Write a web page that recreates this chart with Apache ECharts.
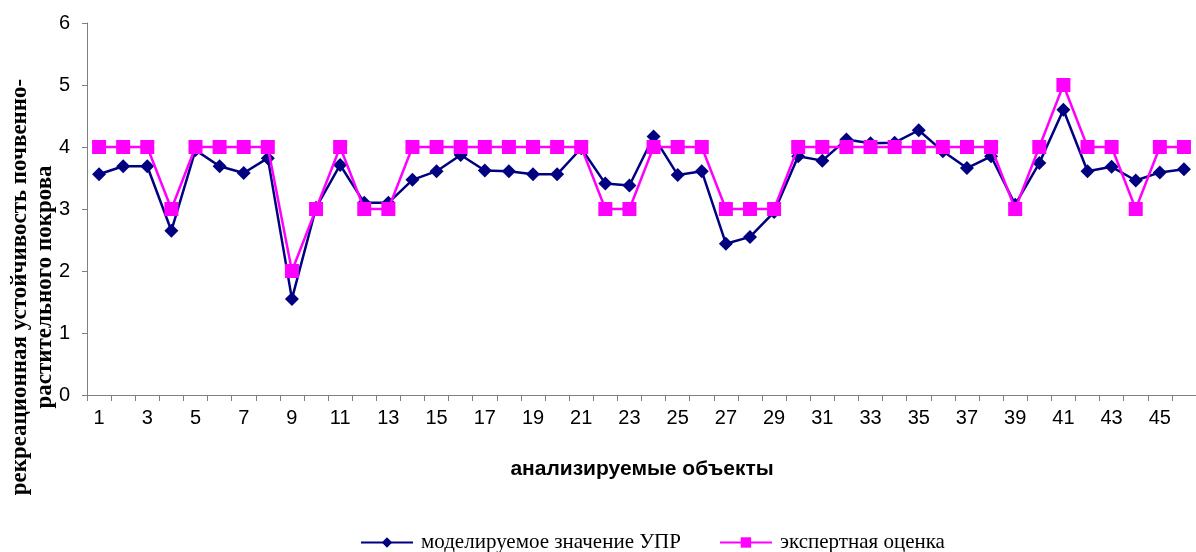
<!DOCTYPE html>
<html>
<head>
<meta charset="utf-8">
<script src="https://cdn.jsdelivr.net/npm/echarts@6/dist/echarts.min.js"></script>
<style>
  html, body { margin: 0; padding: 0; background: #fff; }
  #chart { width: 1196px; height: 552px; }
</style>
</head>
<body>
<div id="chart"></div>
<script>
// Analysed objects 1..46
const objects = Array.from({ length: 46 }, (_, i) => String(i + 1));

// Modelled recreational stability value (УПР)
const modelled = [
  3.56, 3.69, 3.69, 2.65, 3.95, 3.69, 3.58, 3.82, 1.55, 3.02,
  3.71, 3.10, 3.10, 3.47, 3.61, 3.87, 3.62, 3.61, 3.56, 3.56,
  3.98, 3.41, 3.38, 4.17, 3.55, 3.61, 2.44, 2.55, 2.95, 3.85,
  3.78, 4.12, 4.06, 4.07, 4.27, 3.93, 3.66, 3.85, 3.07, 3.74,
  4.60, 3.61, 3.68, 3.46, 3.59, 3.64
];

// Expert assessment
const expert = [
  4, 4, 4, 3, 4, 4, 4, 4, 2, 3,
  4, 3, 3, 4, 4, 4, 4, 4, 4, 4,
  4, 3, 3, 4, 4, 4, 3, 3, 3, 4,
  4, 4, 4, 4, 4, 4, 4, 4, 3, 4,
  5, 4, 4, 3, 4, 4
];

const seriesNames = ['моделируемое значение УПР', 'экспертная оценка'];
const yTitle = ['рекреационная устойчивость почвенно-', 'растительного покрова'];
const xTitle = 'анализируемые объекты';

const axisColor = '#7f7f7f';
const sans = 'Liberation Sans, Arial, sans-serif';
const serif = 'Liberation Serif, Times New Roman, serif';

const chart = echarts.init(document.getElementById('chart'), null, { renderer: 'canvas' });

chart.setOption({
  animation: false,
  backgroundColor: '#ffffff',
  grid: { left: 87, top: 23, width: 1115, bottom: 157, containLabel: false },
  xAxis: {
    type: 'category',
    data: objects,
    boundaryGap: true,
    axisLine: { lineStyle: { color: axisColor, width: 1 } },
    axisTick: { show: true, interval: 0, length: 6, lineStyle: { color: axisColor } },
    axisLabel: { interval: 1, color: '#000', fontFamily: sans, fontSize: 20, margin: 13 },
    splitLine: { show: false }
  },
  yAxis: {
    type: 'value',
    min: 0,
    max: 6,
    interval: 1,
    axisLine: { show: true, lineStyle: { color: axisColor, width: 1 } },
    axisTick: { show: true, length: 5, lineStyle: { color: axisColor } },
    axisLabel: { color: '#000', fontFamily: sans, fontSize: 20, margin: 17 },
    splitLine: { show: false }
  },
  legend: {
    top: 527,
    left: 355,
    itemGap: 38,
    itemWidth: 52,
    itemHeight: 13,
    textStyle: { color: '#000', fontFamily: serif, fontSize: 21, padding: [0, 0, 0, 3] },
    data: seriesNames
  },
  graphic: [
    {
      type: 'text',
      x: 33,
      y: 287,
      rotation: Math.PI / 2,
      style: {
        text: yTitle.join('\n'),
        font: 'bold 23px ' + serif,
        fill: '#000',
        align: 'center',
        verticalAlign: 'middle',
        lineHeight: 25
      }
    },
    {
      type: 'text',
      x: 642,
      y: 469,
      style: {
        text: xTitle,
        font: 'bold 21px ' + sans,
        fill: '#000',
        align: 'center',
        verticalAlign: 'middle'
      }
    }
  ],
  series: [
    {
      name: seriesNames[0],
      type: 'line',
      data: modelled,
      symbol: 'diamond',
      symbolSize: 14,
      showAllSymbol: true,
      itemStyle: { color: '#000080' },
      lineStyle: { color: '#000080', width: 2.5 },
      z: 2
    },
    {
      name: seriesNames[1],
      type: 'line',
      data: expert,
      symbol: 'rect',
      symbolSize: 14,
      showAllSymbol: true,
      itemStyle: { color: '#ff00ff' },
      lineStyle: { color: '#ff00ff', width: 2.5 },
      z: 3
    }
  ]
});
</script>
</body>
</html>
